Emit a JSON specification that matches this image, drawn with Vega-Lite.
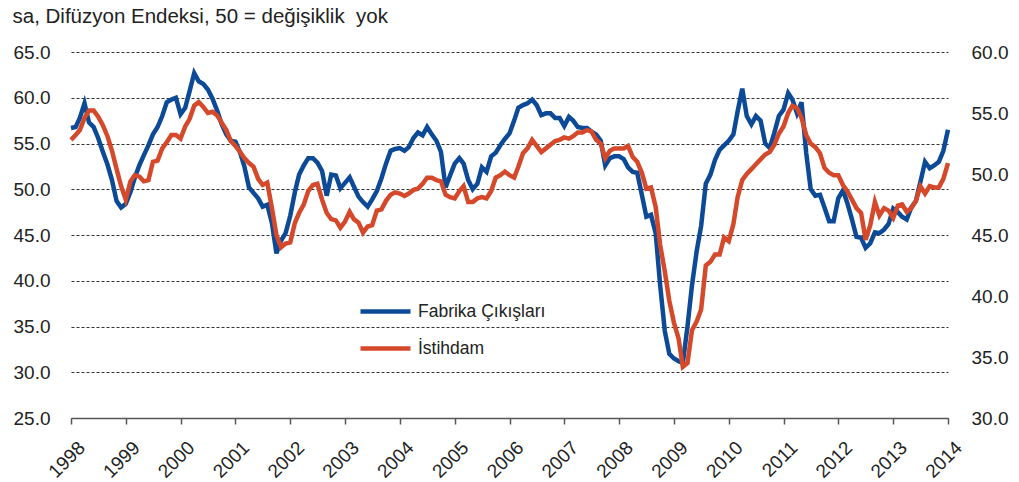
{
"$schema": "https://vega.github.io/schema/vega-lite/v6.json",
"width": 877, "height": 366,
"autosize": {"type": "none"},
"padding": {"left": 71, "top": 52, "right": 71, "bottom": 64},
"background": "white",
"config": {"view": {"stroke": null}, "font": "Liberation Sans"},
"data": {"values": [
{"d":"1998-01-01","f":56.7,"i":52.8},{"d":"1998-02-01","f":56.8,"i":53.2},{"d":"1998-03-01","f":57.8,"i":53.6},{"d":"1998-04-01","f":59.4,"i":54.6},{"d":"1998-05-01","f":57.3,"i":55.2},{"d":"1998-06-01","f":56.8,"i":55.2},{"d":"1998-07-01","f":55.6,"i":54.7},{"d":"1998-08-01","f":54.1,"i":54.0},{"d":"1998-09-01","f":52.7,"i":53.1},{"d":"1998-10-01","f":51.0,"i":51.9},{"d":"1998-11-01","f":48.7,"i":50.4},{"d":"1998-12-01","f":48.0,"i":49.0},
{"d":"1999-01-01","f":48.4,"i":47.9},{"d":"1999-02-01","f":49.7,"i":49.4},{"d":"1999-03-01","f":51.2,"i":49.9},{"d":"1999-04-01","f":52.6,"i":49.8},{"d":"1999-05-01","f":53.7,"i":49.4},{"d":"1999-06-01","f":54.8,"i":49.5},{"d":"1999-07-01","f":56.0,"i":51.0},{"d":"1999-08-01","f":56.8,"i":51.1},{"d":"1999-09-01","f":58.0,"i":52.1},{"d":"1999-10-01","f":59.5,"i":52.6},{"d":"1999-11-01","f":59.8,"i":53.2},{"d":"1999-12-01","f":60.0,"i":53.2},
{"d":"2000-01-01","f":58.2,"i":52.9},{"d":"2000-02-01","f":58.9,"i":53.9},{"d":"2000-03-01","f":60.7,"i":54.5},{"d":"2000-04-01","f":62.7,"i":55.6},{"d":"2000-05-01","f":61.8,"i":55.9},{"d":"2000-06-01","f":61.5,"i":55.5},{"d":"2000-07-01","f":60.9,"i":55.0},{"d":"2000-08-01","f":59.9,"i":55.1},{"d":"2000-09-01","f":58.6,"i":54.8},{"d":"2000-10-01","f":57.1,"i":54.2},{"d":"2000-11-01","f":56.0,"i":53.6},{"d":"2000-12-01","f":55.3,"i":52.7},
{"d":"2001-01-01","f":55.2,"i":52.3},{"d":"2001-02-01","f":54.0,"i":51.8},{"d":"2001-03-01","f":52.5,"i":51.3},{"d":"2001-04-01","f":50.2,"i":50.9},{"d":"2001-05-01","f":49.6,"i":50.6},{"d":"2001-06-01","f":49.0,"i":49.6},{"d":"2001-07-01","f":48.1,"i":49.1},{"d":"2001-08-01","f":48.3,"i":49.3},{"d":"2001-09-01","f":46.3,"i":47.2},{"d":"2001-10-01","f":43.0,"i":45.0},{"d":"2001-11-01","f":44.4,"i":44.0},{"d":"2001-12-01","f":45.2,"i":44.3},
{"d":"2002-01-01","f":47.1,"i":44.4},{"d":"2002-02-01","f":49.7,"i":46.0},{"d":"2002-03-01","f":51.6,"i":46.8},{"d":"2002-04-01","f":52.6,"i":47.5},{"d":"2002-05-01","f":53.4,"i":48.6},{"d":"2002-06-01","f":53.4,"i":49.1},{"d":"2002-07-01","f":52.9,"i":49.2},{"d":"2002-08-01","f":52.0,"i":47.9},{"d":"2002-09-01","f":49.3,"i":46.8},{"d":"2002-10-01","f":51.6,"i":46.3},{"d":"2002-11-01","f":51.5,"i":46.2},{"d":"2002-12-01","f":50.1,"i":45.6},
{"d":"2003-01-01","f":50.7,"i":46.1},{"d":"2003-02-01","f":51.3,"i":46.9},{"d":"2003-03-01","f":50.3,"i":46.3},{"d":"2003-04-01","f":49.2,"i":46.0},{"d":"2003-05-01","f":48.6,"i":45.2},{"d":"2003-06-01","f":48.1,"i":45.7},{"d":"2003-07-01","f":48.9,"i":45.8},{"d":"2003-08-01","f":49.8,"i":47.0},{"d":"2003-09-01","f":51.2,"i":47.1},{"d":"2003-10-01","f":52.8,"i":47.8},{"d":"2003-11-01","f":54.2,"i":48.3},{"d":"2003-12-01","f":54.4,"i":48.5},
{"d":"2004-01-01","f":54.5,"i":48.4},{"d":"2004-02-01","f":54.2,"i":48.2},{"d":"2004-03-01","f":54.6,"i":48.4},{"d":"2004-04-01","f":55.6,"i":48.7},{"d":"2004-05-01","f":56.2,"i":48.8},{"d":"2004-06-01","f":55.9,"i":49.2},{"d":"2004-07-01","f":56.8,"i":49.7},{"d":"2004-08-01","f":56.0,"i":49.7},{"d":"2004-09-01","f":55.3,"i":49.5},{"d":"2004-10-01","f":54.1,"i":49.4},{"d":"2004-11-01","f":50.2,"i":48.3},{"d":"2004-12-01","f":51.5,"i":48.1},
{"d":"2005-01-01","f":52.8,"i":48.0},{"d":"2005-02-01","f":53.4,"i":48.6},{"d":"2005-03-01","f":52.8,"i":49.0},{"d":"2005-04-01","f":51.0,"i":47.7},{"d":"2005-05-01","f":50.0,"i":47.7},{"d":"2005-06-01","f":50.6,"i":48.0},{"d":"2005-07-01","f":52.4,"i":48.1},{"d":"2005-08-01","f":51.9,"i":48.0},{"d":"2005-09-01","f":53.6,"i":48.6},{"d":"2005-10-01","f":54.0,"i":49.7},{"d":"2005-11-01","f":54.8,"i":49.9},{"d":"2005-12-01","f":55.5,"i":50.2},
{"d":"2006-01-01","f":56.1,"i":49.9},{"d":"2006-02-01","f":57.5,"i":49.7},{"d":"2006-03-01","f":58.9,"i":50.6},{"d":"2006-04-01","f":59.2,"i":51.7},{"d":"2006-05-01","f":59.4,"i":52.1},{"d":"2006-06-01","f":59.8,"i":52.8},{"d":"2006-07-01","f":59.2,"i":52.3},{"d":"2006-08-01","f":58.1,"i":51.8},{"d":"2006-09-01","f":58.3,"i":52.1},{"d":"2006-10-01","f":58.3,"i":52.4},{"d":"2006-11-01","f":57.8,"i":52.7},{"d":"2006-12-01","f":57.8,"i":52.8},
{"d":"2007-01-01","f":56.9,"i":53.0},{"d":"2007-02-01","f":57.9,"i":52.9},{"d":"2007-03-01","f":57.5,"i":53.1},{"d":"2007-04-01","f":56.8,"i":53.4},{"d":"2007-05-01","f":56.7,"i":53.4},{"d":"2007-06-01","f":56.7,"i":53.6},{"d":"2007-07-01","f":56.3,"i":53.5},{"d":"2007-08-01","f":56.0,"i":52.8},{"d":"2007-09-01","f":55.3,"i":52.5},{"d":"2007-10-01","f":52.6,"i":51.3},{"d":"2007-11-01","f":53.4,"i":51.9},{"d":"2007-12-01","f":53.6,"i":52.1},
{"d":"2008-01-01","f":53.6,"i":52.1},{"d":"2008-02-01","f":53.3,"i":52.1},{"d":"2008-03-01","f":52.4,"i":52.3},{"d":"2008-04-01","f":51.9,"i":51.4},{"d":"2008-05-01","f":51.8,"i":51.0},{"d":"2008-06-01","f":49.4,"i":50.1},{"d":"2008-07-01","f":47.0,"i":48.8},{"d":"2008-08-01","f":47.2,"i":48.9},{"d":"2008-09-01","f":45.2,"i":47.3},{"d":"2008-10-01","f":39.5,"i":44.2},{"d":"2008-11-01","f":34.5,"i":42.0},{"d":"2008-12-01","f":32.0,"i":39.6},
{"d":"2009-01-01","f":31.5,"i":37.8},{"d":"2009-02-01","f":31.2,"i":36.5},{"d":"2009-03-01","f":31.0,"i":34.2},{"d":"2009-04-01","f":35.0,"i":34.5},{"d":"2009-05-01","f":39.5,"i":37.2},{"d":"2009-06-01","f":43.2,"i":37.9},{"d":"2009-07-01","f":46.0,"i":38.9},{"d":"2009-08-01","f":50.6,"i":42.5},{"d":"2009-09-01","f":51.6,"i":42.8},{"d":"2009-10-01","f":53.2,"i":43.4},{"d":"2009-11-01","f":54.3,"i":43.4},{"d":"2009-12-01","f":54.8,"i":44.8},
{"d":"2010-01-01","f":55.3,"i":44.5},{"d":"2010-02-01","f":56.0,"i":45.9},{"d":"2010-03-01","f":58.5,"i":48.1},{"d":"2010-04-01","f":61.0,"i":49.5},{"d":"2010-05-01","f":58.0,"i":50.0},{"d":"2010-06-01","f":57.1,"i":50.4},{"d":"2010-07-01","f":58.0,"i":50.8},{"d":"2010-08-01","f":57.5,"i":51.2},{"d":"2010-09-01","f":55.0,"i":51.6},{"d":"2010-10-01","f":54.5,"i":51.8},{"d":"2010-11-01","f":56.2,"i":52.4},{"d":"2010-12-01","f":58.0,"i":53.3},
{"d":"2011-01-01","f":58.7,"i":53.9},{"d":"2011-02-01","f":60.5,"i":55.0},{"d":"2011-03-01","f":59.8,"i":55.6},{"d":"2011-04-01","f":58.3,"i":55.4},{"d":"2011-05-01","f":59.5,"i":54.6},{"d":"2011-06-01","f":54.0,"i":53.2},{"d":"2011-07-01","f":50.0,"i":52.5},{"d":"2011-08-01","f":49.3,"i":52.2},{"d":"2011-09-01","f":49.4,"i":51.7},{"d":"2011-10-01","f":48.0,"i":50.5},{"d":"2011-11-01","f":46.5,"i":50.1},{"d":"2011-12-01","f":46.5,"i":49.9},
{"d":"2012-01-01","f":49.0,"i":49.9},{"d":"2012-02-01","f":49.9,"i":49.1},{"d":"2012-03-01","f":48.5,"i":48.6},{"d":"2012-04-01","f":46.7,"i":47.9},{"d":"2012-05-01","f":44.8,"i":47.2},{"d":"2012-06-01","f":44.7,"i":46.8},{"d":"2012-07-01","f":43.6,"i":44.6},{"d":"2012-08-01","f":44.1,"i":45.8},{"d":"2012-09-01","f":45.3,"i":47.7},{"d":"2012-10-01","f":45.2,"i":46.6},{"d":"2012-11-01","f":45.6,"i":47.2},{"d":"2012-12-01","f":46.2,"i":47.0},
{"d":"2013-01-01","f":47.9,"i":46.4},{"d":"2013-02-01","f":47.5,"i":47.4},{"d":"2013-03-01","f":47.0,"i":47.5},{"d":"2013-04-01","f":46.7,"i":46.9},{"d":"2013-05-01","f":48.0,"i":47.2},{"d":"2013-06-01","f":48.7,"i":47.8},{"d":"2013-07-01","f":50.8,"i":49.0},{"d":"2013-08-01","f":53.0,"i":48.4},{"d":"2013-09-01","f":52.3,"i":49.0},{"d":"2013-10-01","f":52.6,"i":48.9},{"d":"2013-11-01","f":53.0,"i":48.9},{"d":"2013-12-01","f":54.2,"i":49.6},
{"d":"2014-01-01","f":56.5,"i":50.9}
]},
"encoding": {
  "x": {"field": "d", "type": "temporal",
    "scale": {"type": "utc", "domain": [{"year": 1998, "month": 1, "date": 1, "utc": true}, {"year": 2014, "month": 1, "date": 1, "utc": true}]},
    "axis": {"title": null, "format": "%Y", "tickCount": {"interval": "year", "step": 1}, "labelAngle": -45, "labelAlign": "right", "labelBaseline": "top", "labelOffset": 4, "labelPadding": 14, "tickSize": 6, "tickColor": "#555", "tickWidth": 1.5, "domainColor": "#555", "domainWidth": 1.5, "grid": false, "labelFontSize": 19, "labelColor": "#222", "labelFlush": false, "labelOverlap": false}}
},
"layer": [
  {"mark": {"type": "line", "strokeWidth": 4.5, "clip": false},
   "encoding": {
     "y": {"field": "f", "type": "quantitative", "scale": {"domain": [25, 65], "nice": false, "zero": false},
       "axis": {"title": "sa, Difüzyon Endeksi, 50 = değişiklik\u00a0 yok", "titleAngle": 0, "titleAlign": "left", "titleBaseline": "alphabetic", "titleX": -59, "titleY": -30, "titleFontSize": 20.5, "titleFontWeight": "normal", "titleColor": "#222",
         "values": [25, 30, 35, 40, 45, 50, 55, 60, 65], "format": ".1f", "domain": false, "ticks": false, "labelPadding": 21, "labelFontSize": 19, "labelColor": "#222",
         "grid": true, "gridDash": [3, 2], "gridColor": "#333", "gridWidth": 1}},
     "color": {"datum": "Fabrika Çıkışları", "type": "nominal",
       "scale": {"domain": ["Fabrika Çıkışları", "İstihdam"], "range": ["#0c4a97", "#d5482a"]},
       "legend": {"orient": "none", "legendX": 287, "legendY": 232, "direction": "vertical", "title": null, "symbolType": "stroke", "symbolSize": 2500, "symbolStrokeWidth": 4.5, "labelFontSize": 17.5, "labelOffset": 5, "rowPadding": -10, "padding": 0, "labelColor": "#222"}}
   }},
  {"mark": {"type": "line", "strokeWidth": 4.5, "clip": false},
   "encoding": {
     "y": {"field": "i", "type": "quantitative", "scale": {"domain": [30, 60], "nice": false, "zero": false},
       "axis": {"orient": "right", "title": null, "values": [30, 35, 40, 45, 50, 55, 60], "format": ".1f", "domain": false, "ticks": false, "grid": false, "labelPadding": 23, "labelFontSize": 19, "labelColor": "#222"}},
     "color": {"datum": "İstihdam", "type": "nominal"}
   }}
],
"resolve": {"scale": {"y": "independent"}}
}
